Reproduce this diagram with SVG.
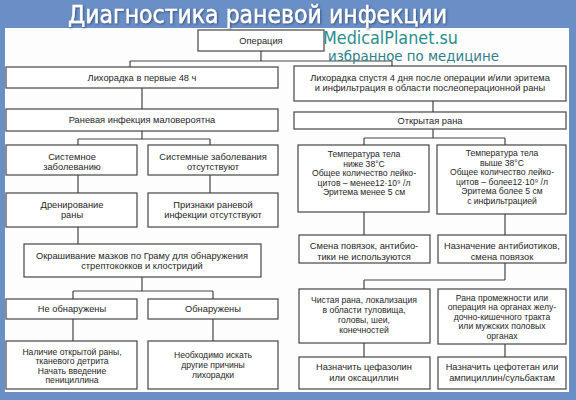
<svg xmlns="http://www.w3.org/2000/svg" width="576" height="400" viewBox="0 0 576 400">
<style>
.box{fill:#ffffff;stroke:#454545;stroke-width:1.2}
.t{font-family:"Liberation Sans",Arial,sans-serif;font-size:9.3px;fill:#262626;text-anchor:middle}
.s{font-size:8.6px}
.c{fill:none;stroke:#454545;stroke-width:1.2}
.title{font-family:"DejaVu Sans",sans-serif;font-size:24px;fill:#ffffff;stroke:#ffffff;stroke-width:0.4}
.wm1{font-family:"DejaVu Sans",sans-serif;font-size:17px;fill:#2a8f8c}
.wm2{font-family:"DejaVu Sans",sans-serif;font-size:14px;fill:#2f7f8a}
</style>
<defs>
<filter id="sh" x="-5%" y="-30%" width="110%" height="160%">
<feDropShadow dx="1" dy="1" stdDeviation="0.8" flood-color="#2c4670" flood-opacity="0.85"/>
</filter>
</defs>
<rect x="0" y="0" width="576" height="400" fill="#6a8ec6"/>
<rect x="5" y="28" width="564" height="364" fill="#fdfdfd"/>
<text class="title" x="68" y="23" textLength="379" lengthAdjust="spacingAndGlyphs" filter="url(#sh)">Диагностика раневой инфекции</text>

<g id="connectors">
<path class="c" d="M261 51V61M130 61H392M130 61V67M392 61V66"/>
<path class="c" d="M142 88V109M433 101V112"/>
<path class="c" d="M142 131V139M78 139H210M78 139V145M210 139V145"/>
<path class="c" d="M78 175V193M210 175V193M78 227V244"/>
<path class="c" d="M142 277V291M73 291H213M73 291V299M213 291V299"/>
<path class="c" d="M73 319V341M213 319V341"/>
<path class="c" d="M433 129V138M364 138H505M364 138V145M505 138V145"/>
<path class="c" d="M364 212V235M505 214V235"/>
<path class="c" d="M505 263V280M364 280H505M364 280V289"/>
<path class="c" d="M364 343V357M505 344V357"/>
</g>

<g id="n_op"><rect class="box" x="198" y="30" width="126" height="21"/><text class="t" x="261" y="44">Операция</text></g>
<g id="n_fever48"><rect class="box" x="6" y="67" width="272" height="21"/><text class="t" x="142" y="81">Лихорадка в первые 48 ч</text></g>
<g id="n_fever4"><rect class="box" x="294" y="66" width="272" height="35"/><text class="t" x="430" y="80.5">Лихорадка спустя 4 дня после операции и/или эритема</text><text class="t" x="430" y="91">и инфильтрация в области послеоперационной раны</text></g>
<g id="n_unlikely"><rect class="box" x="6" y="109" width="272" height="22"/><text class="t" x="142" y="123">Раневая инфекция маловероятна</text></g>
<g id="n_open"><rect class="box" x="294" y="112" width="272" height="17"/><text class="t" x="430" y="124">Открытая рана</text></g>
<g id="n_sys"><rect class="box" x="6" y="145" width="131" height="30"/><text class="t" x="72" y="159.5">Системное</text><text class="t" x="72" y="170">заболеванию</text></g>
<g id="n_nosys"><rect class="box" x="148" y="145" width="130" height="30"/><text class="t" x="213" y="159.5">Системные заболевания</text><text class="t" x="213" y="170">отсутствуют</text></g>
<g id="n_drain"><rect class="box" x="6" y="193" width="131" height="34"/><text class="t" x="72" y="207.5">Дренирование</text><text class="t" x="72" y="218">раны</text></g>
<g id="n_nosigns"><rect class="box" x="148" y="193" width="130" height="34"/><text class="t" x="213" y="207.5">Признаки раневой</text><text class="t" x="213" y="218">инфекции отсутствуют</text></g>
<g id="n_gram"><rect class="box" x="24" y="244" width="237" height="33"/><text class="t" x="142" y="258.5">Окрашивание мазков по Граму для обнаружения</text><text class="t" x="142" y="269">стрептококков и клостридий</text></g>
<g id="n_notfound"><rect class="box" x="6" y="299" width="131" height="20"/><text class="t" x="72" y="312">Не обнаружены</text></g>
<g id="n_found"><rect class="box" x="148" y="299" width="130" height="20"/><text class="t" x="213" y="312">Обнаружены</text></g>
<g id="n_openwound"><rect class="box" x="6" y="341" width="131" height="48"/><text class="t s" x="72" y="354.5">Наличие открытой раны,</text><text class="t s" x="72" y="364">тканевого детрита</text><text class="t s" x="72" y="373.5">Начать введение</text><text class="t s" x="72" y="383">пенициллина</text></g>
<g id="n_other"><rect class="box" x="148" y="341" width="130" height="48"/><text class="t s" x="213" y="358">Необходимо искать</text><text class="t s" x="213" y="368">другие причины</text><text class="t s" x="213" y="378">лихорадки</text></g>
<g id="n_tlow"><rect class="box" x="298" y="145" width="131" height="67"/><text class="t s" x="364" y="157">Температура тела</text><text class="t s" x="364" y="166.5">ниже 38°С</text><text class="t s" x="364" y="176">Общее количество лейко-</text><text class="t s" x="364" y="185.5">цитов – менее12·10⁹ /л</text><text class="t s" x="364" y="195">Эритема менее 5 см</text></g>
<g id="n_thigh"><rect class="box" x="437" y="145" width="129" height="69"/><text class="t s" x="502" y="156">Температура тела</text><text class="t s" x="502" y="165.5">выше 38°С</text><text class="t s" x="502" y="175">Общее количество лейко-</text><text class="t s" x="502" y="184.5">цитов – более12·10⁹ /л</text><text class="t s" x="502" y="194">Эритема более 5 см</text><text class="t s" x="502" y="203.5">с инфильтрацией</text></g>
<g id="n_change"><rect class="box" x="299" y="235" width="131" height="28"/><text class="t" x="364" y="249">Смена повязок, антибио-</text><text class="t" x="364" y="259.5">тики не используются</text></g>
<g id="n_abx"><rect class="box" x="438" y="235" width="128" height="28"/><text class="t" x="502" y="249">Назначение антибиотиков,</text><text class="t" x="502" y="259.5">смена повязок</text></g>
<g id="n_clean"><rect class="box" x="299" y="289" width="131" height="54"/><text class="t s" x="364" y="303">Чистая рана, локализация</text><text class="t s" x="364" y="313">в области туловища,</text><text class="t s" x="364" y="323">головы, шеи,</text><text class="t s" x="364" y="333">конечностей</text></g>
<g id="n_perineum"><rect class="box" x="438" y="289" width="128" height="55"/><text class="t s" x="502" y="300.5">Рана промежности или</text><text class="t s" x="502" y="310">операция на органах желу-</text><text class="t s" x="502" y="319.5">дочно-кишечного тракта</text><text class="t s" x="502" y="329">или мужских половых</text><text class="t s" x="502" y="338.5">органах</text></g>
<g id="n_cef"><rect class="box" x="299" y="357" width="131" height="32"/><text class="t" x="364" y="370">Назначить цефазолин</text><text class="t" x="364" y="380.5">или оксациллин</text></g>
<g id="n_cefot"><rect class="box" x="438" y="357" width="128" height="32"/><text class="t" x="502" y="370">Назначить цефотетан или</text><text class="t" x="502" y="380.5">ампициллин/сульбактам</text></g>

<text class="wm1" x="323" y="44" textLength="135" lengthAdjust="spacingAndGlyphs">MedicalPlanet.su</text>
<text class="wm2" x="328" y="61" textLength="171" lengthAdjust="spacingAndGlyphs">избранное по медицине</text>
</svg>
